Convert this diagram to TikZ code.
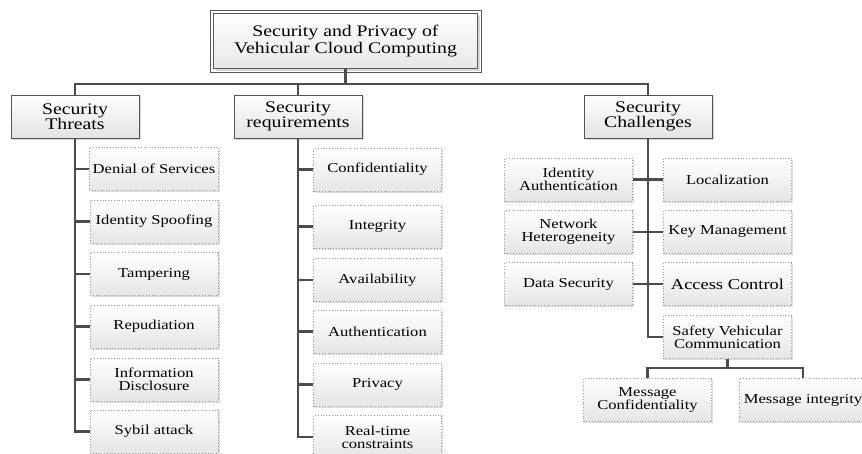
\documentclass[tikz,border=0pt]{standalone}
\usepackage{fontspec}
\setmainfont{Liberation Serif}[FakeStretch=1.22]
\usetikzlibrary{shadows}
\tikzset{
  conn/.style={draw=black!70, line width=2.6pt},
  rootbox/.style={draw=gray!70!black, line width=0.8pt,
    top color=white, bottom color=gray!18, minimum width=264pt, minimum height=55pt,
    align=center, font=\fontsize{16.2}{17}\selectfont,
    drop shadow={shadow xshift=2pt, shadow yshift=-2pt, fill=gray!60}},
  rootframe/.style={draw=gray!70!black, line width=0.8pt},
  lvlbox/.style={draw=gray!65!black, line width=0.9pt,
    top color=white, bottom color=gray!22, minimum width=128pt, minimum height=43pt,
    align=center, font=\fontsize{16.2}{15}\selectfont,
    drop shadow={shadow xshift=1.5pt, shadow yshift=-1.5pt, fill=gray!60}},
  leafbox/.style={draw=gray!80, dotted, line width=0.8pt,
    top color=white, bottom color=gray!20, minimum width=128pt, minimum height=43pt,
    align=center, font=\fontsize{13.6}{13}\selectfont,
    drop shadow={shadow xshift=1.5pt, shadow yshift=-1.5pt, fill=gray!50}},
}
\begin{document}
\begin{tikzpicture}[x=1pt,y=-1pt]
\useasboundingbox (0,0) rectangle (862,453);
\clip (0,0) rectangle (862,453);
\fill[white] (0,0) rectangle (862,453);

% root
\node[rootbox] (root) at (345.5,41) {Security and Privacy of\\Vehicular Cloud Computing};
\draw[rootframe] ([shift={(-3pt,3pt)}]root.north west) rectangle ([shift={(3pt,-3pt)}]root.south east);

% level 1
\node[lvlbox] (thr) at (75,116.5) {Security\\Threats};
\node[lvlbox] (req) at (298,116.5) {Security\\requirements};
\node[lvlbox] (chal) at (648,116.5) {Security\\Challenges};
\coordinate (bus) at (345.5,84);

% threats
\node[leafbox] (t1) at (154,169) {Denial of Services};
\node[leafbox] (t2) at (154,221.5) {Identity Spoofing};
\node[leafbox] (t3) at (154,274) {Tampering};
\node[leafbox] (t4) at (154,326.5) {Repudiation};
\node[leafbox] (t5) at (154,379.5) {Information\\Disclosure};
\node[leafbox] (t6) at (154,431.5) {Sybil attack};

% requirements
\node[leafbox] (r1) at (377.5,169.5) {Confidentiality};
\node[leafbox] (r2) at (377.5,226.5) {Integrity};
\node[leafbox] (r3) at (377.5,280) {Availability};
\node[leafbox] (r4) at (377.5,331.5) {Authentication};
\node[leafbox] (r5) at (377.5,384.5) {Privacy};
\node[leafbox] (r6) at (377.5,437) {Real-time\\constraints};

% challenges
\node[leafbox] (c1) at (568.5,179.5) {Identity\\Authentication};
\node[leafbox] (c2) at (568.5,232) {Network\\Heterogeneity};
\node[leafbox] (c3) at (568.5,284) {Data Security};
\node[leafbox] (c4) at (727.5,179.5) {Localization};
\node[leafbox] (c5) at (727.5,232) {Key Management};
\node[leafbox, font=\fontsize{15.1}{15}\selectfont] (c6) at (727.5,284) {Access Control};
\node[leafbox] (c7) at (727.5,337) {Safety Vehicular\\Communication};
\node[leafbox] (m1) at (647.5,400) {Message\\Confidentiality};
\node[leafbox] (m2) at (803,400) {Message integrity};

% connectors
\draw[conn] (root.south) -- (bus);
\draw[conn] (thr.north) -- (thr.north |- bus) -- (chal.north |- bus) -- (chal.north);
\draw[conn] (req.north |- bus) -- (req.north);

\draw[conn] (thr.south) -- (thr.south |- t6.west) -- (t6.west);
\foreach \n in {t1,t2,t3,t4,t5}{\draw[conn] (thr.south |- \n.west) -- (\n.west);}

\draw[conn] (req.south) -- (req.south |- r6.west) -- (r6.west);
\foreach \n in {r1,r2,r3,r4,r5}{\draw[conn] (req.south |- \n.west) -- (\n.west);}

\draw[conn] (chal.south) -- (chal.south |- c7.west) -- (c7.west);
\draw[conn] (c1.east) -- (c4.west);
\draw[conn] (c2.east) -- (c5.west);
\draw[conn] (c3.east) -- (c6.west);

\coordinate (sj) at (727.5,368);
\draw[conn] (c7.south) -- (sj);
\draw[conn] (m1.north) -- (m1.north |- sj) -- (m2.north |- sj) -- (m2.north);
\end{tikzpicture}
\end{document}
